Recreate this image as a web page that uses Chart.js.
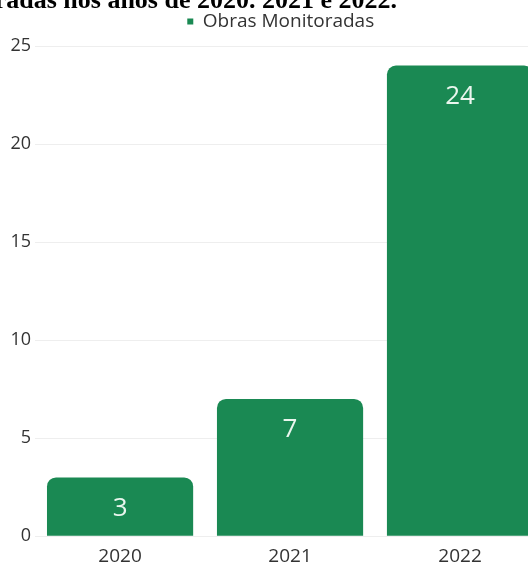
<!DOCTYPE html>
<html>
<head>
<meta charset="utf-8">
<script src="https://cdn.jsdelivr.net/npm/chart.js@4.4.0/dist/chart.umd.min.js"></script>
<style>
  body { margin: 0; overflow: hidden; background: #fff; width: 528px; height: 567px; position: relative; }
  #caption {
    position: absolute; right: 131px; top: -15px; white-space: nowrap;
    font-family: "Liberation Serif", serif; font-weight: bold; font-size: 26px; color: #000;
    z-index: 2;
  }
  #wrap { position: absolute; left: 0; top: 0; width: 562px; height: 569px; }
</style>
</head>
<body>
<div id="caption">Quantidade de obras monitoradas nos anos de 2020. 2021 e 2022.</div>
<div id="wrap"><canvas id="graph1"></canvas></div>
<script>
var years = ['2020', '2021', '2022'];
var obras = [3, 7, 24];
var yTicks = [0, 5, 10, 15, 20, 25];

var barGreen = 'rgb(26, 137, 83)';

// writes each bar's value inside the top of the bar
var valueLabels = {
    id: 'valueLabels',
    afterDatasetsDraw: function (chart) {
        var ctx = chart.ctx;
        var meta = chart.getDatasetMeta(0);
        ctx.save();
        ctx.font = '26px "Open Sans"';
        ctx.fillStyle = '#eaf6ee';
        ctx.textAlign = 'center';
        ctx.textBaseline = 'middle';
        meta.data.forEach(function (bar, i) {
            ctx.fillText(String(chart.data.datasets[0].data[i]), bar.x, bar.y + 31);
        });
        ctx.restore();
    }
};

// a bit more room between the legend and the plot, legend nudged right
var legendGap = {
    id: 'legendGap',
    beforeInit: function (chart) {
        var fit = chart.legend.fit;
        chart.legend.fit = function () {
            fit.call(this);
            this.height += 5;
        };
    },
    afterLayout: function (chart) {
        chart.legend.left += 5;
        chart.legend.right += 5;
    }
};

function showData() {
    var context = document.getElementById('graph1').getContext('2d');
    var chart = new Chart(context, {
        type: 'bar',
        data: {
            labels: years,
            datasets: [
                {
                  label: 'Obras Monitoradas',
                  data: obras,
                  backgroundColor: barGreen,
                  borderRadius: { topLeft: 9, topRight: 9 },
                  borderSkipped: 'bottom',
                  categoryPercentage: 1.0,
                  barPercentage: 0.86
                }
            ]
        },
        options: {
            responsive: true,
            maintainAspectRatio: false,
            animation: false,
            layout: { padding: { top: 2, left: 6.5, right: 17, bottom: 0 } },
            plugins: {
                legend: {
                    labels: {
                        usePointStyle: true,
                        pointStyle: 'rect',
                        boxWidth: 6,
                        boxHeight: 6,
                        color: '#333',
                        font: { family: 'Open Sans', size: 19 }
                    }
                },
                tooltip: { enabled: false }
            },
            scales: {
                x: {
                    grid: { display: false },
                    border: { display: false },
                    ticks: { color: '#333', font: { family: 'Open Sans', size: 19 }, padding: 1 }
                },
                y: {
                    min: 0,
                    max: 25,
                    afterBuildTicks: function (axis) {
                        axis.ticks = yTicks.map(function (v) { return { value: v }; });
                    },
                    grid: { color: '#eeeeee', drawTicks: false },
                    border: { display: false },
                    ticks: { color: '#333', font: { family: 'Open Sans', size: 18 }, padding: 4 }
                }
            }
        },
        plugins: [valueLabels, legendGap]
    });
}

showData();
</script>
</body>
</html>
